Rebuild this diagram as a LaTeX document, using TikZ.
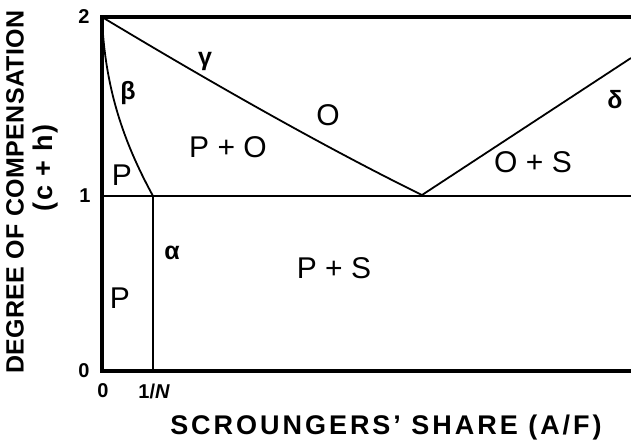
\documentclass[tikz,border=0pt]{standalone}
\usepackage{fontspec}
\setmainfont{Liberation Sans}
\begin{document}
\begin{tikzpicture}[x=1pt,y=-1pt,
  frame/.style={line width=3.6pt,line cap=rect},
  thin/.style={line width=1.6pt},
  curve/.style={line width=1.8pt},
  tick/.style={font=\bfseries\fontsize{20}{20}\selectfont,inner sep=0pt},
  region/.style={font=\fontsize{30}{30}\selectfont,inner sep=0pt},
  greek/.style={font=\bfseries\fontsize{25}{25}\selectfont,inner sep=0pt},
  xlabst/.style={font=\bfseries\fontsize{27}{27}\selectfont\addfontfeatures{LetterSpace=11},inner sep=0pt},
  ylabst/.style={font=\bfseries\fontsize{25}{25}\selectfont\addfontfeatures{LetterSpace=1.5},inner sep=0pt},
  ylabstb/.style={font=\bfseries\fontsize{27}{27}\selectfont\addfontfeatures{LetterSpace=6},inner sep=0pt}]
\useasboundingbox (0,0) rectangle (631,440);
% corner coordinates
\coordinate (TL) at (102,17);
\coordinate (TR) at (631,17);
\coordinate (ML) at (102,196);
\coordinate (MR) at (631,196);
\coordinate (BL) at (102,371);
\coordinate (BR) at (631,371);
\coordinate (NT) at (153,196);
\coordinate (NB) at (153,371);
\coordinate (V) at (422,195);
\coordinate (DE) at (631,58);
% frame
\draw[frame] (TR) -- (TL) -- (BL) -- (BR);
\draw[thin] (ML) -- (MR);
% boundaries
\draw[curve] (NT) -- (NB);
\draw[curve] (TL) .. controls (105,95) and (128,150) .. (NT);
\draw[curve] (TL) .. controls (200,76) and (320,145) .. (V);
\draw[curve] (V) -- (DE);
% tick labels
\node[tick] (t2) at (84,17) {2};
\node[tick] (t1) at (85,196) {1};
\node[tick] (t0) at (84,371) {0};
\node[tick] (x0) at (103,391) {0};
\node[tick] (xN) at (154,391) {1/\itshape N};
% region labels
\node[greek] (gam) at (205,61) {γ};
\node[greek] (bet) at (128,93) {β};
\node[greek] (alp) at (172,253) {α};
\node[greek] (del) at (615,100) {δ};
\node[region] (rO) at (328,115) {O};
\node[region] (rPO) at (228,147) {P + O};
\node[region] (rP1) at (122,175) {P};
\node[region] (rOS) at (533,162) {O + S};
\node[region] (rPS) at (334,268) {P + S};
\node[region] (rP2) at (120,298) {P};
% axis labels
\node[ylabst,rotate=90] (ylab) at (15,192) {DEGREE OF COMPENSATION};
\node[ylabstb,rotate=90] (ylab2) at (46,168) {(c + h)};
\node[xlabst] (xlab) at (386,428) {SCROUNGERS’ SHARE (A/F)};
\end{tikzpicture}
\end{document}
